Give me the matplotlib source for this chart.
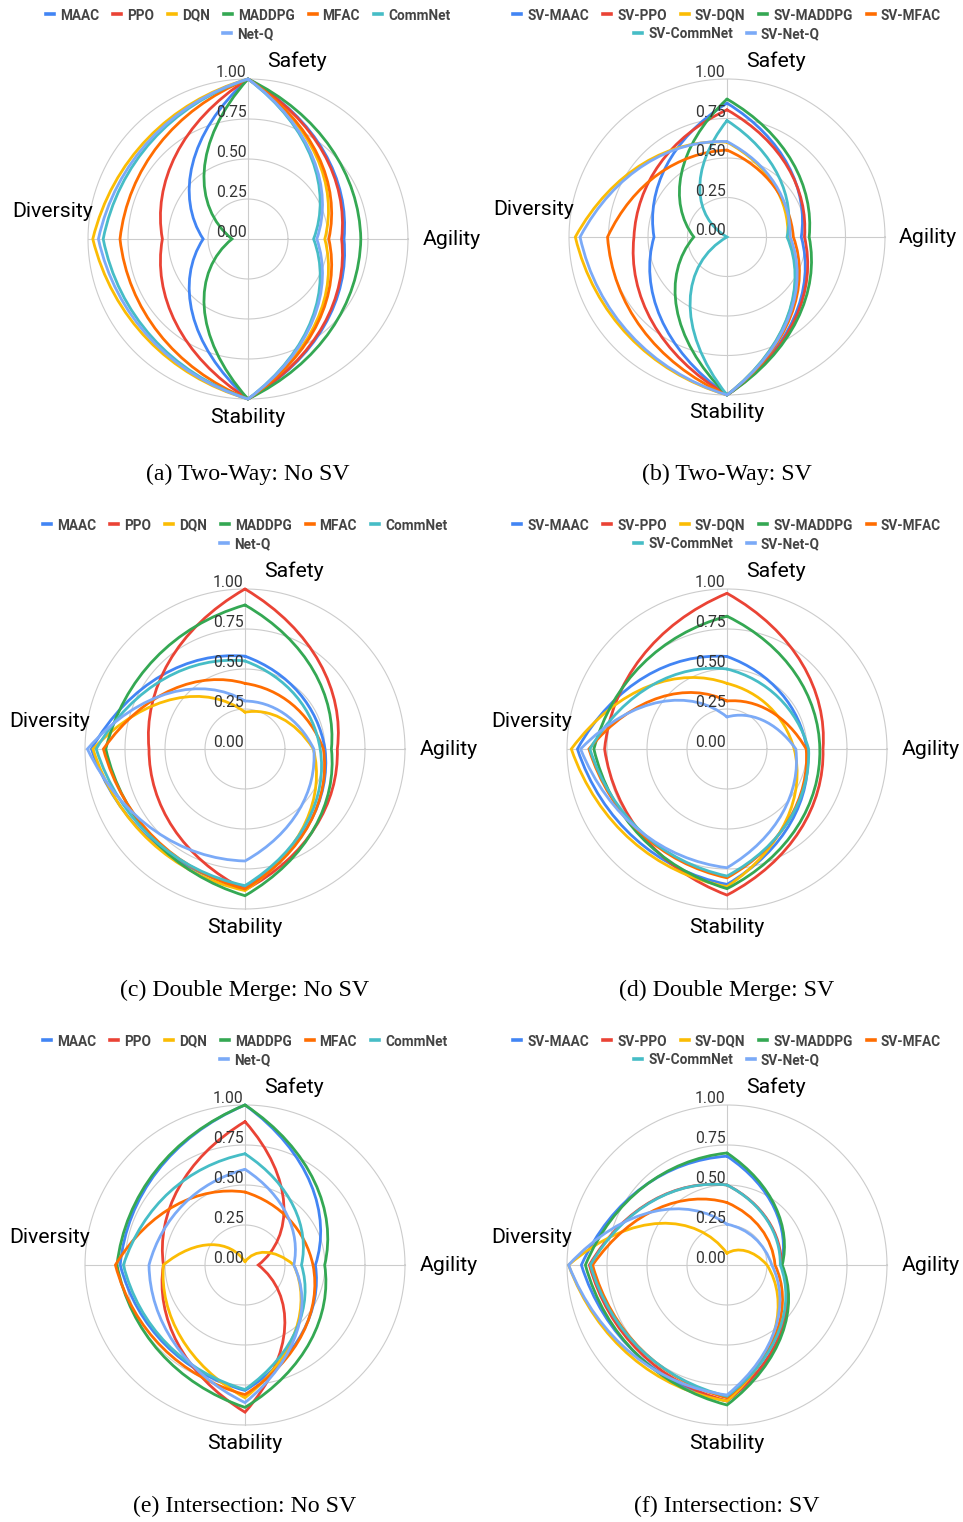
import numpy as np
import matplotlib
matplotlib.use("Agg")
import matplotlib.pyplot as plt
from matplotlib.path import Path
from matplotlib.patches import PathPatch
from matplotlib.lines import Line2D

plt.rcParams['font.family'] = ['Roboto', 'DejaVu Sans']

# ---------------------------------------------------------------------------
# data
# ---------------------------------------------------------------------------
axis_names = ["Safety", "Agility", "Stability", "Diversity"]
axis_angles = [90, 0, -90, -180]          # clockwise from the top
ring_values = [0.25, 0.50, 0.75, 1.00]
tick_values = [0.0, 0.25, 0.50, 0.75, 1.00]
tick_labels = ["0.00", "0.25", "0.50", "0.75", "1.00"]

methods = ["MAAC", "PPO", "DQN", "MADDPG", "MFAC", "CommNet", "Net-Q"]
sv_methods = ["SV-MAAC", "SV-PPO", "SV-DQN", "SV-MADDPG", "SV-MFAC",
              "SV-CommNet", "SV-Net-Q"]
colors = ["#4285F4", "#EA4335", "#FBBC04", "#34A853", "#FF6D01",
          "#46BDC6", "#7BAAF7"]

# rows: methods, columns: Safety, Agility, Stability, Diversity
two_way_no_sv = [
    [1.00, 0.60, 1.00, 0.28],
    [1.00, 0.585, 1.00, 0.535],
    [1.00, 0.48, 1.00, 0.97],
    [1.00, 0.705, 1.00, 0.10],
    [1.00, 0.505, 1.00, 0.80],
    [1.00, 0.41, 1.00, 0.905],
    [1.00, 0.43, 1.00, 0.935],
]
two_way_sv = [
    [0.847, 0.47, 1.00, 0.462],
    [0.805, 0.49, 1.00, 0.589],
    [0.60, 0.385, 1.00, 0.96],
    [0.873, 0.52, 1.00, 0.21],
    [0.55, 0.42, 1.00, 0.756],
    [0.737, 0.38, 1.00, 0.00],
    [0.604, 0.40, 1.00, 0.93],
]
merge_no_sv = [
    [0.58, 0.50, 0.86, 0.96],
    [1.00, 0.577, 0.88, 0.60],
    [0.23, 0.427, 0.885, 0.95],
    [0.90, 0.54, 0.917, 0.87],
    [0.41, 0.49, 0.875, 0.885],
    [0.55, 0.47, 0.854, 0.93],
    [0.30, 0.43, 0.70, 0.985],
]
merge_sv = [
    [0.578, 0.50, 0.846, 0.935],
    [0.973, 0.60, 0.913, 0.765],
    [0.41, 0.42, 0.86, 0.973],
    [0.83, 0.58, 0.873, 0.832],
    [0.30, 0.495, 0.805, 0.863],
    [0.50, 0.51, 0.794, 0.857],
    [0.20, 0.43, 0.742, 0.915],
]
intersection_no_sv = [
    [1.00, 0.44, 0.784, 0.78],
    [0.896, 0.083, 0.92, 0.51],
    [0.02, 0.305, 0.83, 0.51],
    [1.00, 0.498, 0.89, 0.80],
    [0.456, 0.425, 0.81, 0.81],
    [0.695, 0.353, 0.778, 0.76],
    [0.598, 0.305, 0.86, 0.60],
]
intersection_sv = [
    [0.68, 0.34, 0.85, 0.91],
    [0.50, 0.34, 0.85, 0.86],
    [0.073, 0.25, 0.85, 0.99],
    [0.70, 0.345, 0.875, 0.885],
    [0.39, 0.30, 0.83, 0.84],
    [0.50, 0.333, 0.82, 0.854],
    [0.255, 0.28, 0.8125, 0.99],
]

captions = ["(a) Two-Way: No SV", "(b) Two-Way: SV",
            "(c) Double Merge: No SV", "(d) Double Merge: SV",
            "(e) Intersection: No SV", "(f) Intersection: SV"]

# ---------------------------------------------------------------------------
# layout (pixels)
# ---------------------------------------------------------------------------
W, H = 963, 1522
centers = [(248, 239), (727, 237), (245, 749), (727, 749), (245, 1265), (727, 1265)]
radius = [160, 158, 160, 160, 160, 160]
caption_y = [474, 474, 990, 990, 1506, 1506]
legend_y = [14, 14, 524, 524, 1040, 1040]
LIM = 1.5


def polar(angle_deg, r):
    a = np.deg2rad(angle_deg)
    return r * np.cos(a), r * np.sin(a)


def smooth_path(vals):
    # one cubic segment per pair of neighbouring axes, control points taken
    # one third and two thirds along in (angle, value) space
    angs = axis_angles + [axis_angles[0] - 360]
    vv = list(vals) + [vals[0]]
    verts = [polar(angs[0], vv[0])]
    codes = [Path.MOVETO]
    for i in range(4):
        a0, a1, r0, r1 = angs[i], angs[i + 1], vv[i], vv[i + 1]
        for f in (1 / 3, 2 / 3, 1.0):
            verts.append(polar(a0 + (a1 - a0) * f, r0 + (r1 - r0) * f))
            codes.append(Path.CURVE4)
    return Path(verts, codes)


def draw_legend(fig, names, cx, y_top):
    renderer = fig.canvas.get_renderer()
    rows = [names[:6], names[6:]] if len(names[0]) < 5 else [names[:5], names[5:]]
    idx = 0
    for k, row in enumerate(rows):
        y = y_top + k * 19
        texts, widths = [], []
        for name in row:
            t = fig.text(0, 1 - y / H, name, fontsize=9.8, fontweight='bold',
                         color='#444444', va='center_baseline', ha='left')
            widths.append(t.get_window_extent(renderer).width)
            texts.append(t)
        mark, gap, space = 8, 6, 14
        total = sum(mark + gap + w for w in widths) + space * (len(row) - 1)
        x = cx - total / 2
        for t, w in zip(texts, widths):
            fig.add_artist(Line2D([x / W, (x + mark) / W], [1 - y / H, 1 - y / H],
                                  color=colors[idx], lw=2.6,
                                  transform=fig.transFigure))
            t.set_x((x + mark + gap) / W)
            x += mark + gap + w + space
            idx += 1


fig = plt.figure(figsize=(W / 100, H / 100), dpi=100)
datasets = [two_way_no_sv, two_way_sv, merge_no_sv, merge_sv,
            intersection_no_sv, intersection_sv]

for n, data in enumerate(datasets):
    cx, cy = centers[n]
    R = radius[n]
    ax = fig.add_axes([(cx - R * LIM) / W, (H - cy - R * LIM) / H,
                       2 * R * LIM / W, 2 * R * LIM / H])
    ax.set_xlim(-LIM, LIM)
    ax.set_ylim(-LIM, LIM)
    ax.set_aspect('equal')
    ax.axis('off')

    th = np.linspace(0, 2 * np.pi, 300)
    for rv in ring_values:
        ax.plot(rv * np.cos(th), rv * np.sin(th), color='#cccccc', lw=0.8, zorder=1)
    ax.plot([-1, 1], [0, 0], color='#cccccc', lw=0.8, zorder=1)
    ax.plot([0, 0], [-1, 1], color='#cccccc', lw=0.8, zorder=1)

    for vals, col in zip(data, colors):
        ax.add_patch(PathPatch(smooth_path(vals), facecolor='none', edgecolor=col,
                               lw=2.0, capstyle='round', joinstyle='miter', zorder=3))

    for tv, tl in zip(tick_values, tick_labels):
        ax.text(-0.01, tv + 0.01, tl, fontsize=11.3, color='#333333',
                ha='right', va='baseline', zorder=4)

    ax.text(0.12, 1.077, axis_names[0], fontsize=15.3, ha='left', va='baseline')
    ax.text(1.09, -0.04, axis_names[1], fontsize=15.3, ha='left', va='baseline')
    ax.text(0.0, -1.148, axis_names[2], fontsize=15.3, ha='center', va='baseline')
    ax.text(-0.97, 0.14, axis_names[3], fontsize=15.3, ha='right', va='baseline')

    fig.text(cx / W, 1 - caption_y[n] / H, captions[n], fontsize=17.2,
             family='Liberation Serif', ha='center', va='center')

    draw_legend(fig, methods if n % 2 == 0 else sv_methods, cx, legend_y[n])

fig.savefig("out.png", dpi=100)
